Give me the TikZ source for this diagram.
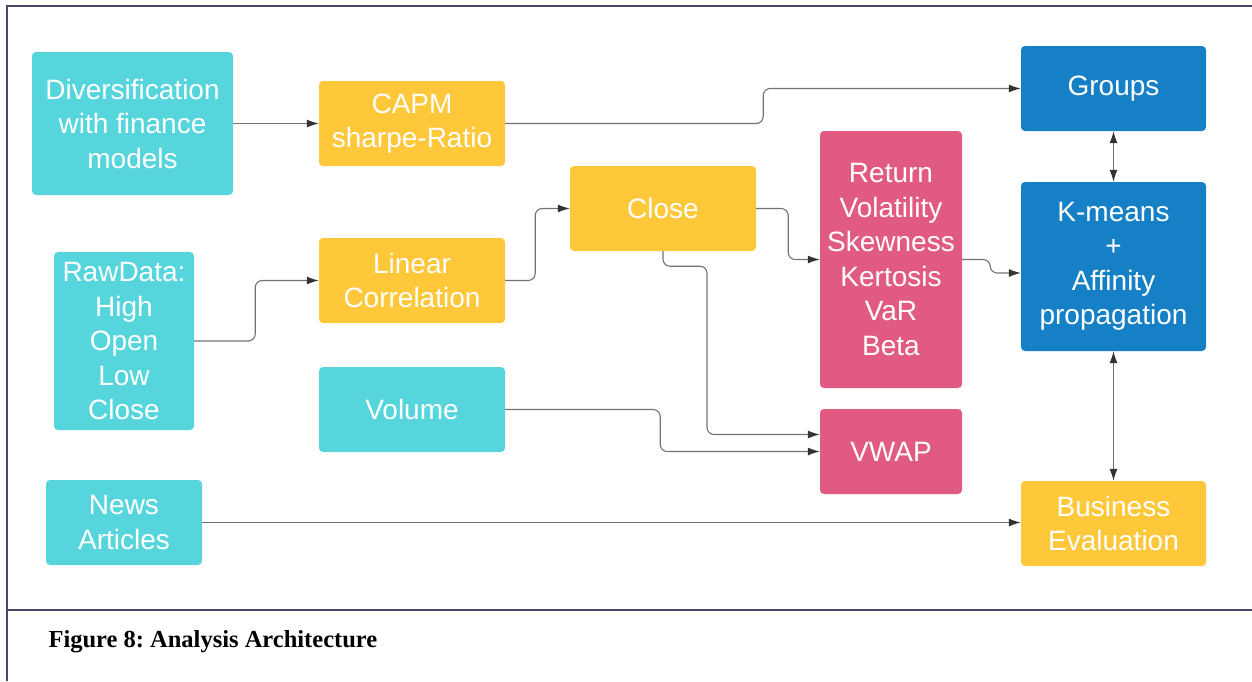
\documentclass[tikz,border=0pt]{standalone}
\usepackage{fontspec}
\setmainfont{Liberation Serif}
\newfontfamily\boxfont{Liberation Sans}
\usepackage{tikz}
\usetikzlibrary{arrows.meta}
\definecolor{cyanbox}{RGB}{86,214,220}
\definecolor{orangebox}{RGB}{255,199,58}
\definecolor{pinkbox}{RGB}{225,90,130}
\definecolor{bluebox}{RGB}{21,128,198}
\definecolor{framecol}{RGB}{72,72,96}
\definecolor{linecol}{RGB}{115,115,115}

\begin{document}
\frenchspacing
\begin{tikzpicture}[x=1pt,y=-1pt,
    box/.style={rounded corners=4pt, text=white, align=center, inner sep=0pt,
        font=\boxfont\fontsize{28}{34.5}\selectfont},
    arrtip/.tip={Latex[length=12pt,width=8pt,fill=black!80,color=black!80]},
    arr/.style={draw=linecol, line width=1.1pt, rounded corners=7pt, -arrtip},
    biarr/.style={draw=linecol, line width=1.1pt, arrtip-arrtip}]
\useasboundingbox (0,0) rectangle (1252,681);
% frame and caption
\draw[framecol, line width=1.3pt] (7,681) -- (7,6) -- (1252,6);
\draw[framecol, line width=1.3pt] (7,610) -- (1252,610);
\node[anchor=west, font=\bfseries\fontsize{24.5}{28}\selectfont] (cap) at (45,642) {Figure 8: Analysis Architecture};

% boxes
\node[box, fill=cyanbox, minimum width=201, minimum height=143] (div) at (132.5,123.5) {Diversification\\with finance\\models};
\node[box, fill=orangebox, minimum width=186, minimum height=85] (capm) at (412,123.5) {CAPM\\sharpe-Ratio};
\node[box, fill=bluebox, minimum width=185, minimum height=85] (groups) at (1113.5,88.5) {Groups};
\node[box, fill=pinkbox, minimum width=142, minimum height=257] (ret) at (891,259.5) {Return\\Volatility\\Skewness\\Kertosis\\VaR\\Beta};
\node[box, fill=orangebox, minimum width=186, minimum height=85] (close) at (663,208.5) {Close};
\node[box, fill=bluebox, minimum width=185, minimum height=169] (kmeans) at (1113.5,266.5) {K-means\\+\\Affinity\\propagation};
\node[box, fill=cyanbox, minimum width=140, minimum height=178] (raw) at (124,341) {RawData:\\High\\Open\\Low\\Close};
\node[box, fill=orangebox, minimum width=186, minimum height=85] (linear) at (412,280.5) {Linear\\Correlation};
\node[box, fill=cyanbox, minimum width=186, minimum height=85] (volume) at (412,409.5) {Volume};
\node[box, fill=pinkbox, minimum width=142, minimum height=85] (vwap) at (891,451.5) {VWAP};
\node[box, fill=cyanbox, minimum width=156, minimum height=85] (news) at (124,522.5) {News\\Articles};
\node[box, fill=orangebox, minimum width=185, minimum height=85] (business) at (1113.5,523.5) {Business\\Evaluation};

% connectors
\draw[arr] (div.east) -- (capm.west);
\draw[arr] (capm.east) -- ++(258,0) |- (groups.west);
\draw[arr] (raw.east) -- ++(61,0) |- (linear.west);
\draw[arr] (linear.east) -- ++(30,0) |- (close.west);
\draw[arr] (close.east) -- ++(32,0) |- (ret.west);
\draw[arr] (close.south) -- ++(0,15) -- ++(44,0) |- ([yshift=17pt]vwap.west);
\draw[arr] (volume.east) -- ++(155,0) |- (vwap.west);
\draw[arr] (ret.east) -- ++(28,0) |- ([yshift=-6.5pt]kmeans.west);
\draw[arr] (news.east) -- (news.east -| business.west);
\draw[biarr] (groups.south) -- (kmeans.north);
\draw[biarr] (kmeans.south) -- (business.north);
\end{tikzpicture}
\end{document}
